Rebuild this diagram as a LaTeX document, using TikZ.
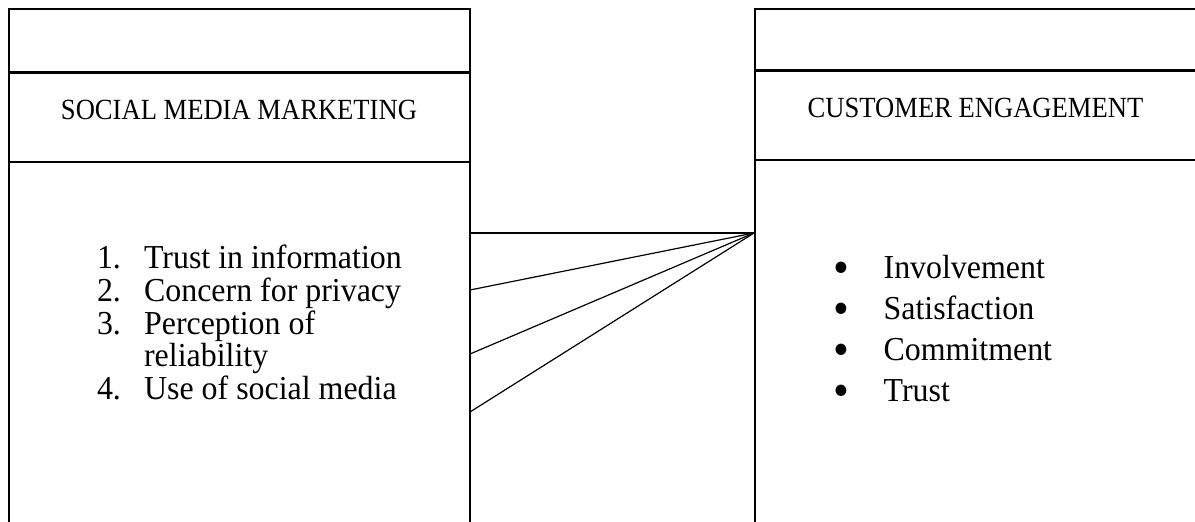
\documentclass[tikz,border=0pt]{standalone}
\usepackage{graphicx}
\usepackage{fontspec}
\setmainfont{Liberation Serif}
\newcommand{\tallbox}[2][1.1]{\scalebox{1}[#1]{#2}}
\newcommand{\numline}[2]{\hbox{\makebox[17.7pt][l]{#1}#2}}
\newcommand{\bulletline}[1]{\hbox{\makebox[16.2pt][l]{\hspace*{-2.6pt}\raisebox{-1.8pt}{\fontsize{17}{17}\selectfont\textbullet}}#1}}

\begin{document}
\begin{tikzpicture}[
        x=0.376pt, y=-0.376pt,
        frame/.style={line width=0.9pt},
        link/.style={line width=0.45pt},
        title/.style={font=\fontsize{10}{12}\selectfont, inner sep=0pt, anchor=base},
        list/.style={inner sep=0pt, anchor=base west}
    ]
    \clip (0,0) rectangle (1195,522);

    % Define boxes
    \draw[frame] (9,600) -- (9,9) -- (470,9) -- (470,600);
    \draw[frame] (9,72.5) -- (470,72.5);
    \draw[frame] (9,162) -- (470,162);
    \draw[frame] (755,600) -- (755,9) -- (1250,9);
    \draw[frame] (755,70.7) -- (1250,70.7);
    \draw[frame] (755,160) -- (1250,160);

    % Define titles
    \node[title] (smmtitle) at (239,119.3) {\tallbox{SOCIAL MEDIA MARKETING}};
    \node[title] (cetitle) at (975.5,117.3) {\tallbox{CUSTOMER ENGAGEMENT}};

    % Define lists
    \node[list] (smmlist) at (96.5,268.5) {\tallbox[1.05]{\fontsize{12}{11.75}\selectfont
        \vtop{\lineskiplimit=-20pt
            \numline{1.}{Trust in information}
            \numline{2.}{Concern for privacy}
            \numline{3.}{Perception of}
            \numline{}{reliability}
            \numline{4.}{Use of social media}}}};
    \node[list] (celist) at (840,278.5) {\tallbox[1.05]{\fontsize{12}{14.7}\selectfont
        \vtop{\lineskiplimit=-20pt
            \bulletline{Involvement}
            \bulletline{Satisfaction}
            \bulletline{Commitment}
            \bulletline{Trust}}}};

    % Define links
    \coordinate (hub) at (754,233);
    \coordinate (a1) at (470,233);
    \coordinate (a2) at (470,290);
    \coordinate (a3) at (470,354);
    \coordinate (a4) at (470,412);
    \foreach \i in {1,...,4}
        \draw[link] (a\i) -- (hub);

\end{tikzpicture}
\end{document}
